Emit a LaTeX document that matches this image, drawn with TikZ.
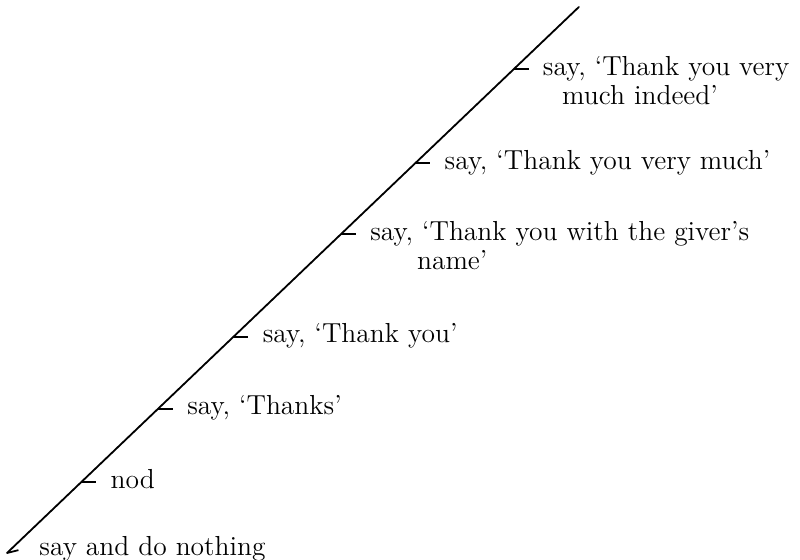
\documentclass[tikz,border=0pt]{standalone}
\usepackage{tikz}
\usetikzlibrary{positioning}
\tikzset{
  scaleline/.style ={line width=0.9pt, line cap=round},
  notch/.style     ={line width=0.9pt},
  optlbl/.style    ={anchor=base west, inner sep=0pt, align=left,
                     font=\fontsize{13.7}{14.5}\selectfont},
}

\begin{document}
\begin{tikzpicture}
\useasboundingbox (0,0) rectangle (14,9.7825);
\coordinate (lo) at (0.1225,0.105);
\coordinate (hi) at (10.13,9.66);
\draw[scaleline] (lo) -- (hi);
% points on the scale, from least to most polite
\path (lo) -- (hi)
  coordinate[pos=0.130] (pnod)
  coordinate[pos=0.264] (pthx)
  coordinate[pos=0.396] (pty)
  coordinate[pos=0.584] (pname)
  coordinate[pos=0.714] (pvm)
  coordinate[pos=0.886] (pvmi);
\draw[notch] (lo) -- ++(0.2,0.05) coordinate (tnone);
\draw[notch] (pnod)  -- ++(0.26,0) coordinate (tnod);
\draw[notch] (pthx)  -- ++(0.26,0) coordinate (tthx);
\draw[notch] (pty)   -- ++(0.26,0) coordinate (tty);
\draw[notch] (pname) -- ++(0.26,0) coordinate (tname);
\draw[notch] (pvm)   -- ++(0.26,0) coordinate (tvm);
\draw[notch] (pvmi)  -- ++(0.26,0) coordinate (tvmi);
\node[optlbl] (none) at ([shift={(0.36,-0.09)}]tnone) {say and do nothing};
\node[optlbl] (nod)  at ([shift={(7pt,-3pt)}]tnod) {nod};
\node[optlbl] (thx)  at ([shift={(7pt,-3pt)}]tthx) {say, `Thanks'};
\node[optlbl] (ty)   at ([shift={(7pt,-3pt)}]tty)  {say, `Thank you'};
% two-line labels: base sits on the second line
\node[optlbl] (name) at ([shift={(7pt,-17.5pt)}]tname)
  {say, `Thank you with the giver's\\\hspace*{1.7em}name'};
\node[optlbl] (vm)   at ([shift={(7pt,-3pt)}]tvm)  {say, `Thank you very much'};
\node[optlbl] (vmi)  at ([shift={(7pt,-17.5pt)}]tvmi)
  {say, `Thank you very\\\hspace*{0.7em}much indeed'};
\end{tikzpicture}
\end{document}
